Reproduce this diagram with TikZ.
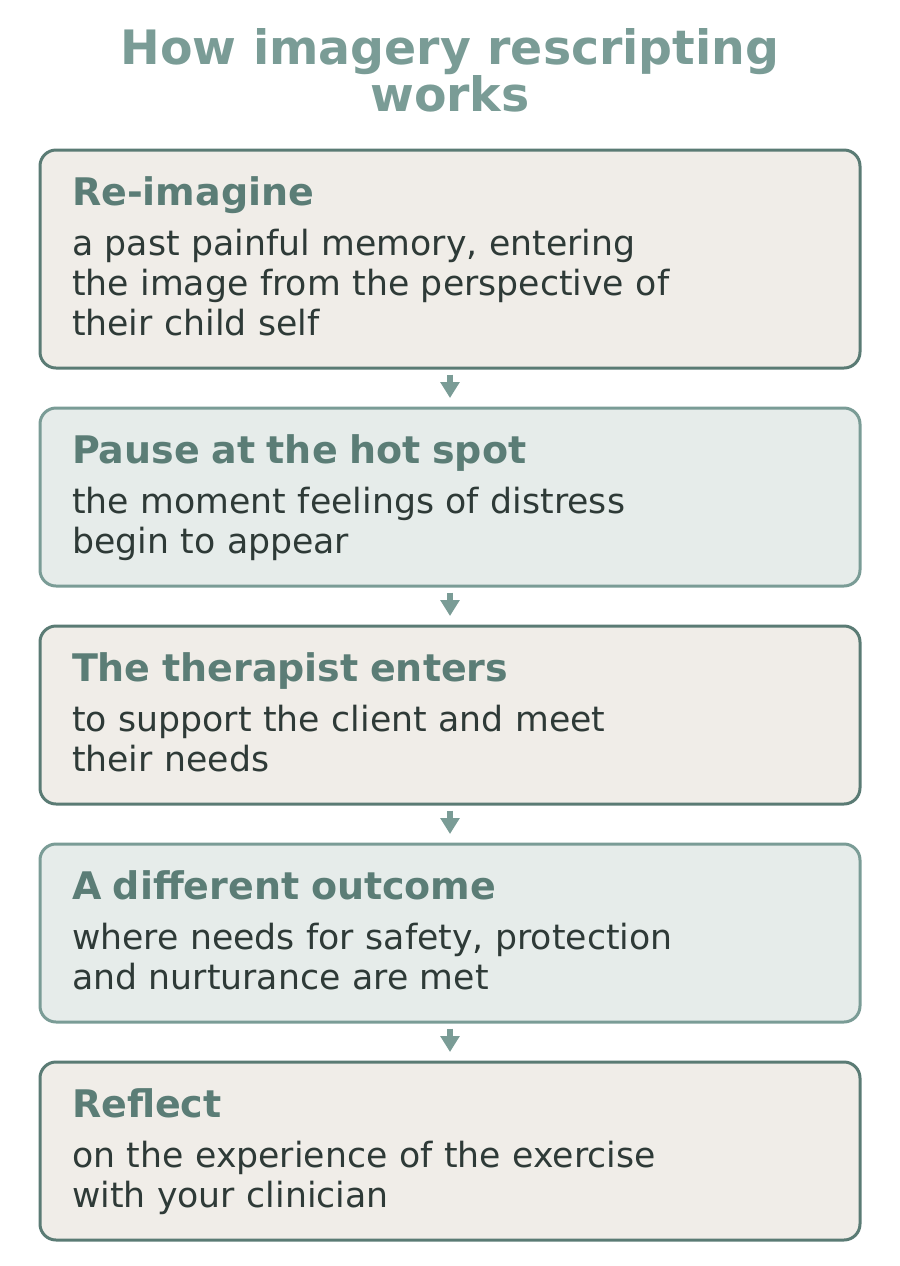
\documentclass[tikz,border=0pt]{standalone}
\usepackage{fontspec}
\setmainfont{DejaVu Sans}
\usetikzlibrary{positioning,arrows.meta}
\definecolor{sage}{HTML}{7A9C96}
\definecolor{sagedark}{HTML}{5A7B74}
\definecolor{headtext}{HTML}{5B7D76}
\definecolor{bodytext}{HTML}{2E3A37}
\definecolor{warmfill}{HTML}{F0EDE8}
\definecolor{coolfill}{HTML}{E6ECEA}
\newcommand{\stephead}[1]{{\fontsize{19}{20}\selectfont\bfseries\color{headtext}\rule{0pt}{15pt}#1}\\[5pt]}
\newcommand{\laststrut}{\rule[-4pt]{0pt}{4pt}}
\tikzset{
  stepbox/.style={draw, rounded corners=8pt, line width=1.5pt, align=left,
    text width=378pt, inner xsep=16pt, inner ysep=12.5pt,
    font=\fontsize{17.35}{20}\selectfont, text=bodytext},
  warmbox/.style={stepbox, draw=sagedark, fill=warmfill},
  coolbox/.style={stepbox, draw=sage, fill=coolfill},
  flowarrow/.style={draw=sage, line width=2.75pt,
    -{Triangle[length=8pt,width=9.3pt]},
    shorten <=2.5pt, shorten >=4.25pt}
}
\begin{document}
\begin{tikzpicture}[x=0.5pt, y=-0.5pt, node distance=18.5pt]
  \useasboundingbox (0,0) rectangle (900,1266);
  % title
  \node[anchor=north, align=center, inner sep=0pt, text=sage,
    font=\fontsize{23.7}{23.5}\selectfont\bfseries] (title) at (450,28)
    {How imagery rescripting\\works};
  % steps
  \node[warmbox, anchor=north] (reimagine) at (450,148.5)
    {\stephead{Re-imagine}a past painful memory, entering\\the image from the perspective of\\their child self\laststrut};
  \node[coolbox, below=of reimagine] (hotspot)
    {\stephead{Pause at the hot spot}the moment feelings of distress\\begin to appear\laststrut};
  \node[warmbox, below=of hotspot] (therapist)
    {\stephead{The therapist enters}to support the client and meet\\their needs\laststrut};
  \node[coolbox, below=of therapist] (outcome)
    {\stephead{A different outcome}where needs for safety, protection\\and nurturance are met\laststrut};
  \node[warmbox, below=of outcome] (reflect)
    {\stephead{Reflect}on the experience of the exercise\\with your clinician\laststrut};
  % arrows
  \draw[flowarrow] (reimagine.south) -- (hotspot.north);
  \draw[flowarrow] (hotspot.south) -- (therapist.north);
  \draw[flowarrow] (therapist.south) -- (outcome.north);
  \draw[flowarrow] (outcome.south) -- (reflect.north);
\end{tikzpicture}
\end{document}
